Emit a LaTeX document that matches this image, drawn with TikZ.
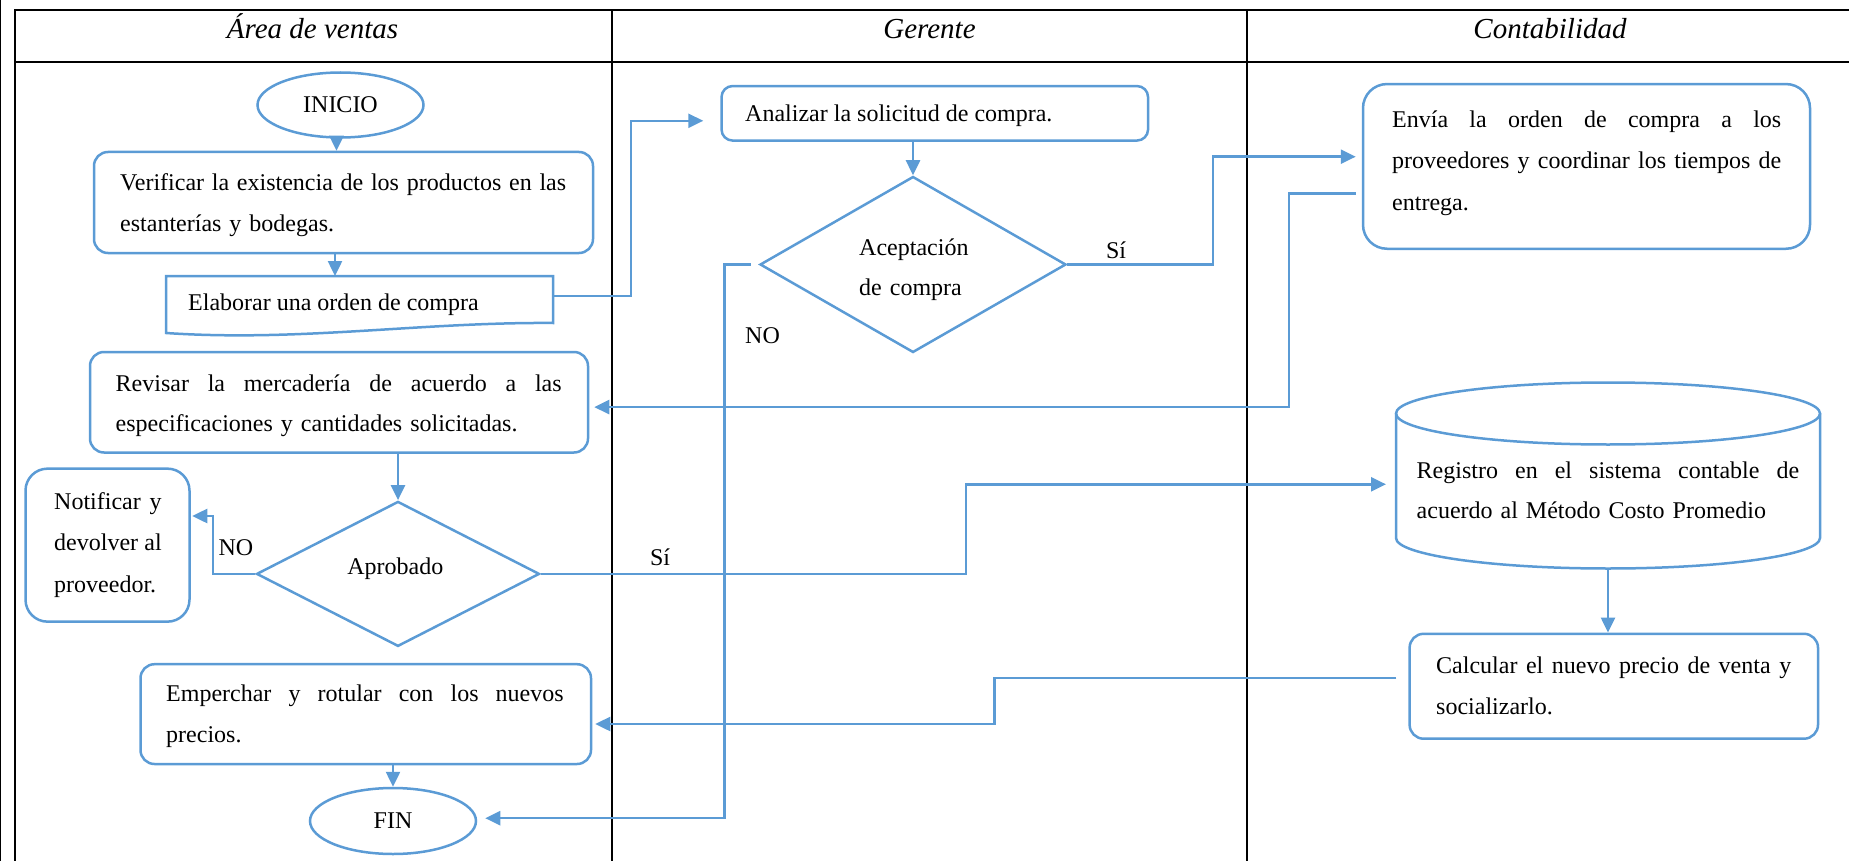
\documentclass[tikz,border=0pt]{standalone}
\usepackage{fontspec}
\setmainfont{Liberation Serif}
\usetikzlibrary{arrows.meta,shapes.geometric,calc}
\definecolor{flow}{HTML}{5B9BD5}
\setlength\parindent{0pt}
% a line spread to a given width (justified)
\newcommand\jline[2]{\leavevmode\hbox to #1pt{\spaceskip=0pt plus 1fil\xspaceskip=0pt plus 1fil\relax #2}}
\newcommand\bodyfont{\fontsize{24}{40.5}\selectfont}
\newcommand\widefont{\fontsize{24}{41.4}\selectfont}
\newcommand\headfont{\fontsize{29}{34}\selectfont\itshape}

\begin{document}
\begin{tikzpicture}[x=1pt,y=-1pt,
  frame/.style={draw=black, line width=2pt},
  shapeline/.style={draw=flow, line width=2.5pt},
  box/.style={shapeline, rectangle, rounded corners=#1, inner sep=0pt},
  box/.default=14pt,
  term/.style={shapeline, ellipse, inner sep=0pt, minimum width=166pt, minimum height=65pt, font=\bodyfont},
  decision/.style={shapeline, diamond, inner sep=0pt},
  anchorbox/.style={inner sep=0pt, outer sep=0pt},
  txt/.style={inner sep=0pt, anchor=north west, align=left, font=\bodyfont},
  lbl/.style={inner sep=0pt, anchor=base, font=\bodyfont},
  head/.style={inner sep=0pt, anchor=base, font=\headfont},
  conn/.style={draw=flow, line width=2.5pt},
  arr/.style={conn, -{Triangle[length=15pt,width=14pt]}}
]
\useasboundingbox (0,0) rectangle (1849,861);

% ---- swimlane table ----
\draw[draw=black, line width=1pt] (0.5,0) -- (0.5,861);
\draw[frame] (15,861) -- (15,10) -- (1849,10);
\draw[frame] (15,62) -- (1849,62);
\draw[frame] (612,10) -- (612,861);
\draw[frame] (1247,10) -- (1247,861);

\node[head] (h1) at (312.5,38.5) {Área de ventas};
\node[head] (h2) at (929.5,38.5) {Gerente};
\node[head] (h3) at (1550,38.5) {Contabilidad};

% ---- Área de ventas ----
\node[term] (inicio) at (340.5,105) {INICIO};

\node[box, minimum width=499pt, minimum height=101pt] (verif) at (343.5,202.5) {};
\node[txt, text width=446pt] (verift) at (120,162.35)
  {\strut\jline{446}{Verificar la existencia de los productos en las}\\estanterías y bodegas.};

% document shape with wavy bottom
\draw[shapeline, line join=miter] (166,276) -- (553,276) -- (553,323)
  .. controls (420,322) and (300,342) .. (166,333) -- cycle;
\node[anchorbox, minimum width=387pt, minimum height=40pt] (elab) at (359.5,296) {};
\node[lbl, anchor=base west] (elabt) at (188,310) {Elaborar una orden de compra};

\node[box, minimum width=498pt, minimum height=100.5pt] (revisar) at (339,402.25) {};
\node[txt, text width=446pt] (revisart) at (115.5,362.55)
  {\strut\jline{446}{Revisar la mercadería de acuerdo a las}\\especificaciones y cantidades solicitadas.};

\node[decision, minimum width=283pt, minimum height=145pt] (aprob) at (398,573.9) {};
\node[lbl] (aprobt) at (395.4,574.3) {Aprobado};

\node[box=22pt, minimum width=164pt, minimum height=153pt] (notif) at (107.5,545.15) {};
\node[txt, text width=107.5pt, font=\widefont] (notift) at (54,480.3)
  {\strut\jline{107.5}{Notificar y}\\\jline{107.5}{devolver al}\\proveedor.};

\node[box, minimum width=450.5pt, minimum height=99.8pt] (emper) at (365.75,714.1) {};
\node[txt, text width=397.5pt, font=\widefont] (empert) at (166,672.4)
  {\strut\jline{397.5}{Emperchar y rotular con los nuevos}\\precios.};

\node[term, minimum height=66pt] (fin) at (393,821) {FIN};

% ---- Gerente ----
\node[box=11pt, minimum width=426.5pt, minimum height=54.5pt] (anal) at (934.8,113.3) {};
\node[lbl, anchor=base west] (analt) at (745,122) {Analizar la solicitud de compra.};

\node[decision, minimum width=306pt, minimum height=176pt] (acep) at (913,264.5) {};
\node[txt, text width=120pt] (acept) at (859,226.5) {\strut Aceptación\\de compra};

% ---- Contabilidad ----
\node[box=24pt, minimum width=447pt, minimum height=164.7pt] (envia) at (1586.5,166.4) {};
\node[txt, text width=389pt, font=\widefont] (enviat) at (1392,98.3)
  {\strut\jline{389}{Envía la orden de compra a los}\\\jline{389}{proveedores y coordinar los tiempos de}\\entrega.};

% database (cylinder)
\draw[shapeline] (1608,413.5) ellipse [x radius=212pt, y radius=31pt];
\draw[shapeline] (1396,413.5) -- (1396,538)
  arc[start angle=180, end angle=360, x radius=212pt, y radius=30.5pt] -- (1820,413.5);
\node[anchorbox, minimum width=424pt, minimum height=186pt] (reg) at (1608,475.5) {};
\node[txt, text width=383pt] (regt) at (1416.5,449.45)
  {\strut\jline{382.5}{Registro en el sistema contable de}\\acuerdo al Método Costo Promedio};

\node[box, minimum width=408.4pt, minimum height=104.9pt] (calc) at (1613.8,686.25) {};
\node[txt, text width=355pt] (calct) at (1436,645.05)
  {\strut\jline{355}{Calcular el nuevo precio de venta y}\\socializarlo.};

% ---- connectors ----
\draw[arr] ([xshift=-4pt]inicio.south) -- ([xshift=-4pt]inicio.south |- verif.north);
\draw[arr] ([xshift=-8.5pt]verif.south) -- ([xshift=-8.5pt]verif.south |- elab.north);
\draw[arr] (elab.east) -- ++(78,0) |- ([xshift=-17pt,yshift=-7.5pt]anal.west);
\draw[arr] (anal.south -| acep.north) -- (acep.north);
\draw[arr] (acep.east) -- ++(145.5,0) |- ([xshift=-6pt,yshift=9.7pt]envia.west);
\draw[arr] ([xshift=-6pt,yshift=-27pt]envia.west) -- ++(-67,0) |- ([xshift=5pt,yshift=-4.85pt]revisar.east);
\draw[arr] (revisar.south -| aprob.north) -- (aprob.north);
\draw[arr] (aprob.west) -- ++(-42.5,0) |- ([xshift=1.5pt,yshift=29.15pt]notif.east);
\draw[arr] (aprob.east) -- ++(425,0) |- ([xshift=-10pt,yshift=-8.8pt]reg.west);
\draw[arr] (reg.south) -- (reg.south |- calc.north);
\draw[arr] ([xshift=-12pt,yshift=8.25pt]calc.west) -- ++(-401.8,0) |- ([xshift=3pt,yshift=-9.9pt]emper.east);
\draw[arr] (fin.north |- emper.south) -- (fin.north);
\draw[arr] ([xshift=-8pt]acep.west) -- ++(-26.5,0) |- ([xshift=8pt,yshift=2.8pt]fin.east);

% ---- branch labels ----
\node[lbl] (no1) at (762.5,343) {NO};
\node[lbl] (si1) at (1116,258.5) {Sí};
\node[lbl] (no2) at (236,555) {NO};
\node[lbl] (si2) at (660,565) {Sí};
\end{tikzpicture}
\end{document}
